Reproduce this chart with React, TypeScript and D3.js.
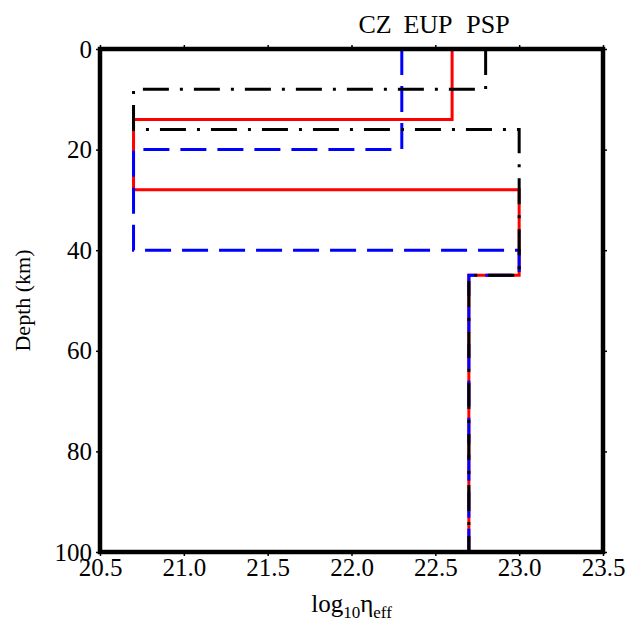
import React, { useEffect, useRef } from 'react'
import * as d3 from 'd3'

// layer tops (km) and log10 viscosity for each profile
const czTops = [0, 20, 40, 45]
const czValues = [22.3, 20.7, 23.0, 22.7]
const eupTops = [0, 14, 28, 45]
const eupValues = [22.6, 20.7, 23.0, 22.7]
const pspTops = [0, 8, 16, 45]
const pspValues = [22.8, 20.7, 23.0, 22.7]
const maxDepth = 100

const xTicks = [20.5, 21.0, 21.5, 22.0, 22.5, 23.0, 23.5]
const yTicks = [0, 20, 40, 60, 80, 100]
const legendNames = ['CZ', 'EUP', 'PSP']

const WIDTH = 630
const HEIGHT = 630
const M = { left: 100, right: 27, top: 49, bottom: 78 }
const FONT = '"Liberation Serif", "Times New Roman", serif'

const profile = (tops: number[], values: number[]) => {
  const pts: [number, number][] = []
  tops.forEach((t, i) => {
    const bottom = i < tops.length - 1 ? tops[i + 1] : maxDepth
    pts.push([values[i], t])
    pts.push([values[i], bottom])
  })
  return pts
}

const App = () => {
  const ref = useRef<SVGSVGElement>(null)

  useEffect(() => {
    const svg = d3.select(ref.current)
    svg.selectAll('*').remove()

    const x = d3.scaleLinear().domain([20.5, 23.5]).range([M.left, WIDTH - M.right])
    const y = d3.scaleLinear().domain([0, maxDepth]).range([M.top, HEIGHT - M.bottom])

    const line = d3.line<[number, number]>().x(d => x(d[0])).y(d => y(d[1]))

    const series = [
      { pts: profile(eupTops, eupValues), color: '#ff0000', dash: null },
      { pts: profile(czTops, czValues), color: '#0000ff', dash: '26,11' },
      { pts: profile(pspTops, pspValues), color: '#000000', dash: '26,11,3,11' },
    ]

    series.forEach(s => {
      svg.append('path')
        .attr('d', line(s.pts))
        .attr('fill', 'none')
        .attr('stroke', s.color)
        .attr('stroke-width', 3)
        .attr('stroke-dasharray', s.dash)
    })

    const tickStyle = (g: any) => {
      g.select('.domain').remove()
      g.selectAll('.tick line').attr('stroke', '#000').attr('stroke-width', 1.5)
      g.selectAll('.tick text')
        .attr('font-family', FONT)
        .attr('font-size', 25)
        .attr('fill', '#000')
    }

    svg.append('g')
      .attr('transform', `translate(0,${HEIGHT - M.bottom})`)
      .call(d3.axisBottom(x).tickValues(xTicks).tickFormat(d3.format('.1f')).tickSize(4).tickPadding(2))
      .call(tickStyle)

    svg.append('g')
      .attr('transform', `translate(0,${M.top})`)
      .call(d3.axisTop(x).tickValues(xTicks).tickFormat(() => '').tickSize(4))
      .call(tickStyle)

    svg.append('g')
      .attr('transform', `translate(${M.left},0)`)
      .call(d3.axisLeft(y).tickValues(yTicks).tickSize(4).tickPadding(4))
      .call(tickStyle)

    svg.append('g')
      .attr('transform', `translate(${WIDTH - M.right},0)`)
      .call(d3.axisRight(y).tickValues(yTicks).tickFormat(() => '').tickSize(4))
      .call(tickStyle)

    svg.append('rect')
      .attr('x', M.left)
      .attr('y', M.top)
      .attr('width', WIDTH - M.left - M.right)
      .attr('height', HEIGHT - M.top - M.bottom)
      .attr('fill', 'none')
      .attr('stroke', '#000')
      .attr('stroke-width', 4.5)

    // profile names above the plot
    const legendX = [375, 428, 488]
    svg.selectAll('text.legend')
      .data(legendNames)
      .enter()
      .append('text')
      .attr('class', 'legend')
      .attr('x', (d, i) => legendX[i])
      .attr('y', 33)
      .attr('text-anchor', 'middle')
      .attr('font-family', FONT)
      .attr('font-size', 26)
      .text(d => d)

    const xt = svg.append('text')
      .attr('x', (M.left + WIDTH - M.right) / 2)
      .attr('y', 612)
      .attr('text-anchor', 'middle')
      .attr('font-family', FONT)
      .attr('font-size', 25)
    xt.append('tspan').text('log')
    xt.append('tspan').attr('font-size', 17).attr('dy', 6).text('10')
    xt.append('tspan').attr('dy', -6).text('η')
    xt.append('tspan').attr('font-size', 17).attr('dy', 6).text('eff')

    svg.append('text')
      .attr('transform', `translate(30,${(M.top + HEIGHT - M.bottom) / 2}) rotate(-90)`)
      .attr('text-anchor', 'middle')
      .attr('font-family', FONT)
      .attr('font-size', 22)
      .text('Depth (km)')
  }, [])

  return (
    <svg ref={ref} width={WIDTH} height={HEIGHT}
      style={{ position: 'absolute', left: 0, top: 0, background: '#fff' }} />
  )
}

export default App
